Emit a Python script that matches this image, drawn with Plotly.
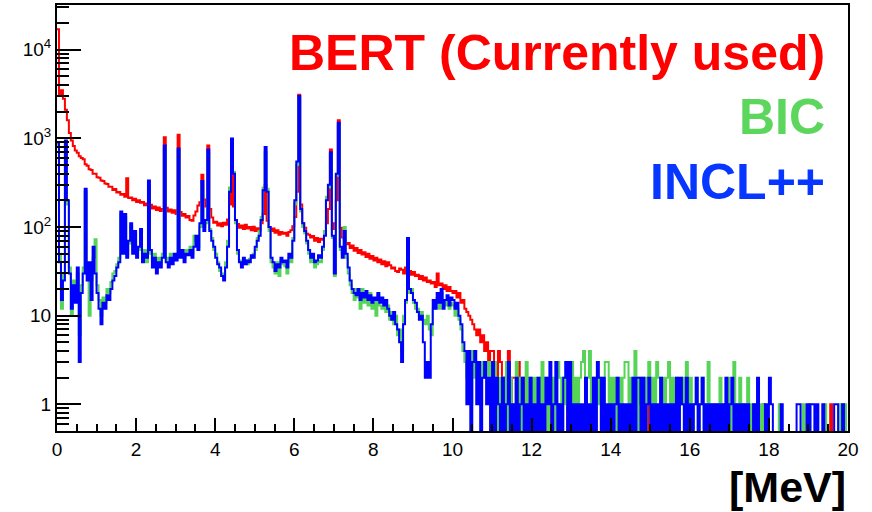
import numpy as np
import plotly.graph_objects as go

# ---------------- data (counts per 0.05 MeV bin) ----------------
bin_width = 0.05
e_min, e_max = 0.0, 20.0

bert_body = [
    17000, 3000, 3500, 2800, 2100, 1600, 1150, 950, 820, 730,
    690, 630, 600, 580, 510, 490, 450, 440, 400, 400,
    365, 360, 335, 330, 310, 305, 285, 285, 262, 268,
    245, 248, 232, 236, 220, 355, 212, 215, 200, 208,
    192, 200, 188, 192, 176, 184, 170, 178, 162, 170,
    156, 166, 152, 160, 1030, 165, 150, 158, 145, 155,
    140, 1100, 148, 134, 140, 128, 133, 120, 118, 135,
    150, 175, 190, 390, 205, 170, 830, 160, 128, 112,
    115, 104, 110, 102, 112, 106, 122, 180, 420, 170,
    118, 108, 98, 104, 95, 106, 96, 100, 92, 101,
    90, 97, 94, 110, 140, 300, 118, 100, 90, 96,
    86, 92, 82, 88, 84, 86, 80, 88, 92, 102,
    130, 250, 3100, 180, 110, 98, 84, 82, 76, 79,
    70, 75, 68, 74, 72, 82, 110, 160, 750, 95,
    110, 200, 1600, 98, 76, 72, 64, 66, 58, 62,
    54, 58, 51, 55, 49, 52, 46, 50, 44, 47,
    42, 45, 40, 43, 38, 41, 36, 40, 37, 34,
    35, 32, 31, 34, 33, 30, 35, 75, 32, 29,
    31, 28, 29, 26, 28, 25, 27, 24, 25, 23,
    24, 21, 30, 22, 23, 20, 22, 19, 21, 19,
    18, 19, 16, 18, 14, 15, 12, 11, 10, 9,
    8, 7, 6, 7, 5, 6, 4, 5, 3, 4,
]
bert_tail = [
    4, 3, 2, 4, 3, 2, 1, 2, 4, 1, 2, 2, 1, 3, 0, 1, 2, 0, 1, 1,
    0, 1, 0, 1, 0, 0, 1, 0, 0, 1, 0, 0, 0, 1, 0, 0, 0, 0, 1, 0,
    0, 0, 0, 1, 0, 0, 0, 0, 0, 0, 1, 0, 0, 0, 0, 0, 0, 0, 0, 0,
    0, 0, 0, 0, 0, 1, 0, 0, 0, 0, 0, 0, 0, 0, 0, 0, 0, 0, 1, 0,
    0, 0, 0, 0, 0, 0, 0, 0, 0, 0, 0, 0, 1, 0, 0, 0, 0, 0, 0, 0,
    0, 0, 0, 0, 0, 0, 0, 0, 0, 0, 0, 0, 0, 0, 0, 0, 0, 0, 0, 0,
    0, 0, 0, 0, 0, 0, 0, 0, 0, 0, 0, 0, 0, 0, 0, 0, 0, 1, 0, 0,
    0, 0, 0, 0, 0, 0, 0, 0, 0, 0, 0, 0, 0, 0, 0, 0, 0, 0, 0, 0,
    0, 0, 0, 0, 0, 0, 0, 0, 0, 0, 0, 1, 0, 0, 0, 0, 0, 0, 0, 0,
]

bic_body = [
    850, 50, 12, 30, 900, 180, 35, 10, 25, 18,
    30, 6, 22, 35, 250, 30, 10, 25, 45, 73,
    22, 15, 10, 16, 14, 20, 18, 24, 30, 32,
    38, 45, 140, 55, 130, 50, 65, 100, 55, 85,
    50, 55, 90, 45, 55, 40, 300, 50, 40, 50,
    35, 45, 40, 50, 780, 45, 40, 50, 42, 45,
    48, 720, 50, 50, 45, 55, 50, 60, 50, 80,
    70, 60, 100, 300, 100, 110, 700, 95, 75, 55,
    50, 40, 32, 30, 28, 40, 70, 280, 900, 420,
    110, 50, 42, 38, 40, 42, 38, 44, 45, 50,
    55, 75, 90, 130, 280, 700, 270, 90, 40, 35,
    30, 40, 28, 42, 38, 36, 30, 45, 40, 75,
    180, 500, 2800, 150, 100, 85, 65, 50, 40, 45,
    35, 38, 42, 40, 55, 90, 220, 280, 650, 75,
    28, 380, 1400, 55, 50, 100, 45, 30, 22, 18,
    15, 20, 16, 12, 20, 14, 17, 13, 18, 12,
    15, 10, 17, 13, 12, 15, 11, 13, 9, 11,
    8, 10, 6, 7, 4, 10, 14, 70, 18, 20,
    14, 12, 12, 10, 11, 9, 8, 10, 7, 6,
    12, 14, 16, 12, 18, 14, 13, 15, 12, 14,
    13, 10, 12, 9, 7, 4, 3, 2, 3, 1,
    4, 2, 3, 2, 1, 3, 2, 2, 3, 1,
]
bic_tail = [
    2, 3, 0, 2, 1, 2, 0, 3, 0, 2, 1, 0, 3, 0, 2, 0, 1, 3, 0, 2,
    0, 2, 1, 2, 0, 3, 1, 2, 0, 2, 1, 2, 0, 3, 2, 0, 2, 1, 2, 0,
    3, 0, 2, 1, 2, 3, 4, 0, 2, 4, 1, 2, 0, 2, 1, 2, 0, 3, 3, 0,
    2, 1, 2, 0, 2, 1, 2, 3, 3, 0, 2, 1, 4, 0, 2, 1, 2, 0, 2, 3,
    0, 2, 1, 3, 2, 0, 2, 1, 2, 3, 0, 2, 1, 2, 0, 1, 2, 0, 3, 1,
    2, 0, 1, 2, 0, 1, 2, 0, 1, 3, 0, 1, 0, 1, 0, 2, 0, 1, 0, 2,
    0, 1, 3, 0, 1, 2, 0, 1, 0, 2, 0, 1, 0, 1, 0, 1, 0, 1, 0, 0,
    0, 0, 0, 0, 0, 1, 0, 0, 0, 0, 0, 0, 0, 0, 0, 0, 0, 1, 0, 0,
    1, 0, 0, 0, 0, 0, 0, 0, 1, 0, 0, 0, 0, 0, 0, 0, 1, 1, 1, 0,
]

incl_body = [
    900, 40, 15, 25, 950, 200, 30, 12, 22, 14,
    35, 3, 18, 30, 270, 25, 40, 15, 60, 30,
    18, 12, 8, 14, 12, 17, 15, 20, 25, 28,
    35, 40, 150, 50, 140, 45, 70, 110, 50, 90,
    45, 60, 95, 40, 50, 45, 335, 55, 35, 45,
    30, 40, 35, 45, 830, 40, 35, 45, 38, 50,
    42, 770, 45, 55, 40, 50, 48, 55, 45, 60,
    80, 55, 110, 330, 90, 120, 750, 90, 70, 60,
    45, 38, 35, 28, 25, 35, 60, 250, 1000, 400,
    120, 55, 40, 35, 45, 38, 42, 40, 48, 45,
    60, 70, 80, 120, 260, 800, 250, 100, 45, 40,
    32, 38, 35, 45, 40, 42, 35, 50, 45, 70,
    200, 550, 3000, 160, 110, 90, 70, 55, 45, 50,
    40, 42, 48, 45, 60, 80, 200, 300, 700, 80,
    30, 400, 1500, 60, 45, 90, 50, 35, 25, 20,
    18, 17, 20, 15, 18, 16, 19, 15, 17, 14,
    16, 15, 18, 14, 16, 13, 15, 12, 10, 9,
    11, 8, 7, 5, 3, 8, 15, 75, 20, 18,
    15, 14, 11, 9, 10, 5, 2, 3, 2, 8,
    15, 12, 18, 14, 20, 12, 15, 17, 13, 16,
    15, 12, 14, 10, 8, 5, 4, 1, 4, 0,
    3, 4, 1, 3, 0, 2, 3, 1, 2, 0,
]
incl_tail = [
    3, 0, 2, 1, 0, 2, 0, 1, 3, 0, 1, 0, 2, 0, 1, 2, 0, 1, 0, 2,
    0, 1, 0, 2, 0, 1, 0, 2, 1, 3, 0, 1, 3, 0, 1, 0, 2, 3, 0, 3,
    0, 1, 0, 1, 0, 1, 0, 2, 0, 1, 0, 2, 0, 3, 2, 0, 2, 0, 1, 0,
    1, 0, 1, 2, 0, 1, 0, 1, 0, 1, 0, 2, 0, 2, 2, 0, 2, 0, 1, 2,
    0, 1, 0, 1, 0, 2, 0, 1, 0, 1, 0, 1, 0, 2, 0, 2, 1, 0, 2, 0,
    1, 0, 1, 2, 0, 1, 2, 0, 1, 0, 1, 0, 1, 0, 1, 0, 1, 0, 2, 0,
    1, 2, 0, 1, 0, 1, 0, 1, 0, 1, 0, 0, 1, 0, 2, 0, 0, 0, 1, 0,
    2, 1, 0, 0, 0, 0, 1, 0, 0, 0, 0, 0, 0, 0, 1, 1, 0, 0, 0, 1,
    0, 1, 1, 0, 1, 0, 0, 1, 0, 0, 0, 0, 0, 1, 1, 0, 0, 1, 0, 0,
]

series_names = ["BERT (Currently used)", "BIC", "INCL++"]
line_colors = ["#ff0000", "#55d455", "#0000ff"]
text_colors = ["#ff0000", "#5cd65c", "#0636ff"]

y_ticks = [1, 10, 100, 1000, 10000]
y_tick_text = ["1", "10", "10<sup>2</sup>", "10<sup>3</sup>", "10<sup>4</sup>"]
x_ticks = [0, 2, 4, 6, 8, 10, 12, 14, 16, 18, 20]

# ---------------- figure ----------------
FONT = "Liberation Sans, Arial, Helvetica, sans-serif"
n_bins = int(round((e_max - e_min) / bin_width))
edges = e_min + bin_width * np.arange(n_bins + 1)

fig = go.Figure()
for name, body, tail, col in zip(series_names,
                                 [bert_body, bic_body, incl_body],
                                 [bert_tail, bic_tail, incl_tail],
                                 line_colors):
    counts = np.array(body + tail, dtype=float)
    # empty bins fall below the log axis, like ROOT draws them
    y = np.where(counts > 0, counts, 0.05)
    y = np.append(y, y[-1])
    fig.add_trace(go.Scatter(x=edges, y=y, mode="lines", line_shape="hv",
                             line=dict(color=col, width=2.0), name=name,
                             showlegend=False, hoverinfo="skip"))

minor_y = []
for dec in [0.1, 1, 10, 100, 1000, 10000]:
    for k in range(2, 10):
        minor_y.append(k * dec)

fig.update_layout(
    width=872, height=512,
    margin=dict(l=57, r=24, t=3, b=81),
    paper_bgcolor="white", plot_bgcolor="white",
    font=dict(family=FONT, color="black", size=19),
    xaxis=dict(range=[e_min, e_max], showgrid=False, zeroline=False,
               showline=True, linecolor="black", linewidth=2, mirror=True,
               ticks="inside", ticklen=13, tickwidth=2, tickcolor="black",
               tickvals=x_ticks, tickfont=dict(size=19, family=FONT),
               minor=dict(ticks="inside", ticklen=7, tickwidth=1.5,
                          tickcolor="black", dtick=0.5, tick0=0)),
    yaxis=dict(type="log", range=[np.log10(0.5), 4.505], showgrid=False,
               zeroline=False, showline=True, linecolor="black", linewidth=2,
               mirror=True, ticks="inside", ticklen=24, tickwidth=2,
               tickcolor="black", tickvals=y_ticks, ticktext=y_tick_text,
               tickfont=dict(size=19, family=FONT),
               minor=dict(ticks="inside", ticklen=12, tickwidth=1.5,
                          tickcolor="black", tickmode="array",
                          tickvals=minor_y)),
)

label_y = [0.887, 0.736, 0.584]
for name, col, yy in zip(series_names, text_colors, label_y):
    fig.add_annotation(text="<b>%s</b>" % name, xref="paper", yref="paper",
                       x=0.974, y=yy, xanchor="right", yanchor="middle",
                       showarrow=False,
                       font=dict(family=FONT, size=50, color=col))

fig.add_annotation(text="<b>[MeV]</b>", xref="paper", yref="paper",
                   x=0.9995, y=-0.131, xanchor="right", yanchor="middle",
                   showarrow=False,
                   font=dict(family=FONT, size=43, color="black"))

fig.write_html("out.html")
